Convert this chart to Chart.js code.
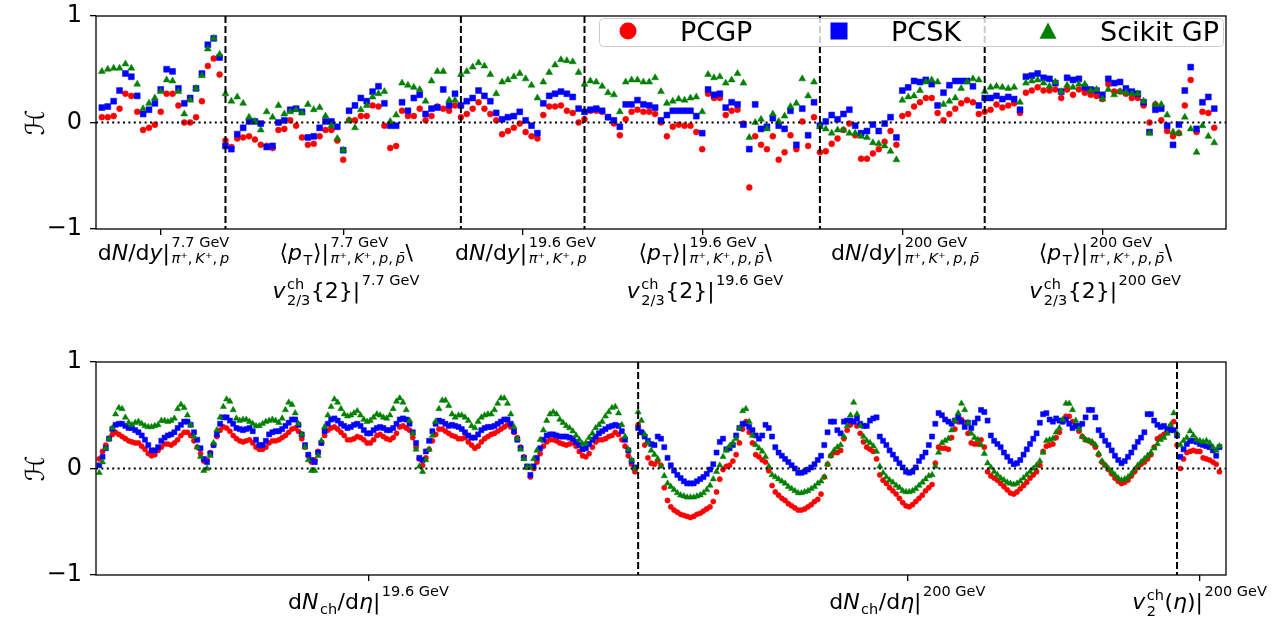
<!DOCTYPE html>
<html>
<head>
<meta charset="utf-8">
<script src="https://cdn.jsdelivr.net/npm/chart.js@4.4.0/dist/chart.umd.min.js"></script>
<style>
  body { margin: 0; background: #fff; }
  #wrap { position: relative; width: 1283px; height: 618px; }
  canvas { position: absolute; left: 0; }
</style>
</head>
<body>
<div id="wrap">
  <canvas id="top-chart" width="1283" height="309" style="top:0;width:1283px;height:309px"></canvas>
  <canvas id="bottom-chart" width="1283" height="309" style="top:309px;width:1283px;height:309px"></canvas>
</div>
<script>
// ---- top panel: 190 observables, groups split by the dashed lines ----
const topBounds = [0, 21, 61, 82, 122, 150, 190];
const topTicks = [10, 41, 71.5, 102, 136, 170];

const topPCGP = [
  0.05,0.05,0.06,0.13,0.27,0.25,0.10,-0.07,-0.05,-0.02,0.10,0.27,0.27,0.16,0.00,0.00,0.05,0.20,0.53,0.60,0.45,
  -0.17,-0.23,-0.15,-0.14,-0.13,-0.16,-0.21,-0.22,-0.24,-0.07,-0.06,0.02,-0.03,-0.14,-0.21,-0.20,-0.13,-0.07,-0.07,-0.17,
  -0.35,0.02,0.02,0.06,0.06,0.16,0.15,-0.03,-0.24,-0.22,0.11,0.06,0.06,0.13,0.02,0.06,0.15,0.13,0.11,0.16,
  0.05,0.08,0.13,0.19,0.13,0.08,0.02,-0.11,-0.08,-0.05,-0.01,-0.09,-0.13,-0.15,0.07,0.15,0.15,0.16,0.11,0.09,0.00,
  0.03,0.11,0.11,0.10,0.05,-0.01,-0.12,0.03,0.10,0.12,0.10,0.10,0.08,0.00,-0.13,-0.04,-0.02,-0.03,-0.03,-0.09,
  -0.25,0.27,0.23,0.23,0.07,0.11,0.12,-0.01,-0.61,-0.13,-0.21,-0.25,-0.13,-0.35,-0.28,-0.12,-0.25,0.01,-0.22,0.05,
  -0.28,-0.27,-0.20,-0.15,-0.07,-0.01,-0.12,-0.34,-0.34,-0.29,-0.25,-0.18,-0.08,-0.21,0.06,0.08,0.15,0.19,0.23,0.23,0.09,0.02,0.08,0.13,0.18,0.21,0.19,0.08,
  0.10,0.12,0.17,0.14,0.16,0.18,0.09,0.28,0.30,0.33,0.30,0.30,0.31,0.23,0.31,0.26,0.31,0.28,0.26,0.25,
  0.22,0.36,0.29,0.29,0.27,0.23,0.23,0.16,0.00,0.17,0.02,-0.08,-0.13,-0.10,0.16,0.40,-0.09,0.10,0.09,-0.05
];
const topPCSK = [
  0.14,0.15,0.20,0.30,0.46,0.43,0.25,0.08,0.12,0.18,0.31,0.50,0.48,0.32,0.18,0.23,0.32,0.46,0.73,0.79,0.61,
  -0.22,-0.25,-0.11,-0.05,0.01,0.01,-0.01,-0.23,-0.22,0.00,0.02,0.12,0.13,0.10,-0.14,-0.13,-0.05,0.01,0.01,-0.04,
  -0.26,0.11,0.16,0.23,0.20,0.29,0.34,0.18,-0.03,-0.03,0.19,0.11,0.23,0.26,0.08,0.13,0.14,0.31,0.16,0.27,
  0.16,0.20,0.23,0.30,0.25,0.20,0.09,0.03,0.05,0.06,0.10,0.02,-0.03,-0.10,0.18,0.25,0.27,0.29,0.27,0.24,0.13,
  0.10,0.12,0.13,0.11,0.05,0.02,-0.04,0.17,0.17,0.21,0.17,0.16,0.14,0.02,0.07,0.11,0.11,0.11,0.11,0.06,
  -0.10,0.31,0.26,0.27,0.14,0.19,0.17,-0.02,-0.25,0.17,-0.06,-0.04,0.04,-0.03,-0.06,0.11,-0.21,0.13,-0.12,0.19,
  -0.03,0.01,0.07,0.03,0.08,0.12,-0.03,-0.10,-0.08,-0.02,-0.08,-0.01,0.05,-0.14,0.30,0.33,0.39,0.38,0.40,0.36,0.16,0.28,0.35,0.39,0.39,0.39,0.34,0.16,
  0.23,0.23,0.25,0.22,0.24,0.22,0.12,0.43,0.44,0.46,0.42,0.41,0.37,0.29,0.42,0.40,0.41,0.33,0.31,0.30,
  0.26,0.41,0.37,0.38,0.32,0.29,0.27,0.19,-0.09,0.12,0.13,-0.03,-0.21,-0.02,0.30,0.52,-0.06,0.19,0.24,0.13
];
const topScikit = [
  0.48,0.50,0.51,0.51,0.55,0.51,0.36,0.13,0.18,0.23,0.29,0.40,0.39,0.29,0.08,0.21,0.32,0.44,0.69,0.79,0.64,
  0.27,0.20,0.24,0.18,0.05,0.01,-0.07,0.10,0.05,0.16,0.08,0.10,0.12,0.09,0.17,0.12,0.14,0.06,-0.03,-0.15,
  -0.26,0.02,-0.05,0.12,0.16,0.24,0.27,0.29,0.01,0.07,0.37,0.35,0.33,0.31,0.20,0.39,0.48,0.48,0.21,0.21,
  0.45,0.48,0.52,0.56,0.53,0.45,0.27,0.38,0.40,0.43,0.46,0.41,0.35,0.23,0.38,0.47,0.54,0.59,0.58,0.57,0.47,
  0.36,0.39,0.38,0.34,0.28,0.26,0.10,0.38,0.40,0.40,0.38,0.38,0.42,0.29,0.18,0.20,0.22,0.21,0.23,0.24,
  0.10,0.45,0.42,0.43,0.37,0.40,0.46,0.37,-0.14,0.00,0.03,-0.06,0.08,0.01,0.06,0.15,0.18,0.41,0.25,0.38,
  -0.04,-0.06,-0.10,-0.07,-0.07,-0.10,-0.10,-0.13,-0.14,-0.19,-0.20,-0.22,-0.27,-0.35,0.21,0.24,0.25,0.30,0.38,0.40,0.38,0.17,0.20,0.23,0.32,0.38,0.41,0.40,
  0.29,0.33,0.34,0.33,0.32,0.33,0.19,0.37,0.39,0.40,0.37,0.34,0.38,0.29,0.35,0.33,0.36,0.36,0.30,0.31,
  0.22,0.31,0.26,0.29,0.28,0.27,0.27,0.20,-0.10,0.17,0.17,0.07,-0.09,-0.10,0.05,-0.06,-0.28,-0.03,-0.13,-0.19
];

// ---- bottom panel: dNch/deta at 19.6 GeV (5 x 33), at 200 GeV (5 x 33), v2(eta) (14) ----
const bottomBounds = [0, 165, 330, 344];
const bottomTicks = [82.5, 247.5, 337];

const dNch196PCGP = [
  0.09,0.16,0.22,0.28,0.32,0.34,0.32,0.30,0.28,0.26,0.25,0.24,0.24,0.21,0.18,0.14,0.12,0.13,0.17,0.20,0.23,0.23,0.22,0.24,0.27,0.31,0.34,0.34,0.31,0.26,0.20,0.14,0.07,
  0.08,0.15,0.22,0.30,0.36,0.39,0.38,0.35,0.31,0.28,0.26,0.25,0.26,0.27,0.24,0.20,0.18,0.18,0.20,0.24,0.26,0.26,0.27,0.29,0.31,0.34,0.37,0.38,0.35,0.28,0.20,0.12,0.06,
  0.08,0.16,0.24,0.31,0.36,0.38,0.39,0.37,0.34,0.31,0.27,0.27,0.28,0.30,0.29,0.27,0.24,0.24,0.27,0.31,0.32,0.30,0.28,0.27,0.29,0.33,0.39,0.40,0.38,0.36,0.29,0.20,0.09,
  0.03,0.10,0.18,0.26,0.32,0.37,0.37,0.35,0.33,0.31,0.30,0.28,0.28,0.29,0.25,0.22,0.19,0.21,0.25,0.28,0.30,0.32,0.33,0.35,0.37,0.39,0.41,0.39,0.34,0.29,0.20,0.11,0.01,
  -0.08,0.00,0.06,0.14,0.21,0.25,0.27,0.27,0.26,0.24,0.23,0.22,0.23,0.24,0.21,0.16,0.12,0.11,0.14,0.20,0.25,0.27,0.27,0.28,0.30,0.31,0.34,0.32,0.27,0.21,0.12,0.04,-0.03
];
const dNch196PCSK = [
  0.03,0.11,0.19,0.28,0.37,0.41,0.42,0.42,0.40,0.38,0.38,0.36,0.34,0.31,0.27,0.22,0.17,0.17,0.20,0.26,0.29,0.31,0.32,0.34,0.38,0.41,0.44,0.44,0.41,0.34,0.27,0.19,0.09,
  0.06,0.14,0.22,0.32,0.42,0.48,0.48,0.45,0.42,0.38,0.37,0.36,0.37,0.38,0.35,0.27,0.22,0.22,0.26,0.32,0.34,0.35,0.35,0.37,0.40,0.43,0.46,0.46,0.41,0.32,0.22,0.13,0.08,
  0.06,0.15,0.24,0.35,0.42,0.46,0.47,0.45,0.42,0.40,0.38,0.39,0.41,0.42,0.40,0.36,0.33,0.33,0.36,0.38,0.39,0.38,0.36,0.36,0.38,0.42,0.46,0.47,0.46,0.42,0.34,0.24,0.10,
  0.08,0.16,0.26,0.35,0.42,0.45,0.44,0.42,0.40,0.41,0.40,0.39,0.37,0.34,0.31,0.29,0.29,0.32,0.36,0.38,0.39,0.39,0.40,0.42,0.44,0.46,0.46,0.42,0.35,0.27,0.19,0.10,0.02,
  -0.06,0.02,0.10,0.19,0.27,0.31,0.32,0.32,0.31,0.30,0.30,0.30,0.29,0.28,0.25,0.22,0.18,0.19,0.23,0.27,0.30,0.33,0.35,0.37,0.39,0.40,0.41,0.40,0.35,0.27,0.17,0.07,0.01
];
const dNch196Scikit = [
  -0.04,0.06,0.19,0.28,0.38,0.51,0.57,0.56,0.48,0.43,0.41,0.43,0.44,0.42,0.40,0.39,0.39,0.40,0.41,0.45,0.45,0.44,0.45,0.47,0.56,0.60,0.57,0.50,0.41,0.30,0.20,0.11,-0.02,
  0.00,0.12,0.24,0.36,0.48,0.58,0.65,0.63,0.55,0.47,0.45,0.46,0.46,0.44,0.42,0.40,0.40,0.42,0.44,0.45,0.46,0.45,0.43,0.47,0.55,0.62,0.60,0.52,0.42,0.32,0.20,0.08,-0.02,
  -0.02,0.12,0.26,0.39,0.50,0.58,0.65,0.62,0.56,0.51,0.49,0.50,0.52,0.54,0.50,0.46,0.44,0.45,0.48,0.51,0.50,0.48,0.47,0.50,0.56,0.63,0.66,0.62,0.55,0.45,0.33,0.18,0.02,
  -0.03,0.08,0.18,0.31,0.44,0.56,0.64,0.64,0.59,0.51,0.48,0.50,0.50,0.48,0.45,0.40,0.38,0.44,0.48,0.50,0.51,0.51,0.55,0.61,0.66,0.66,0.61,0.51,0.39,0.28,0.18,0.09,0.01,
  0.01,0.09,0.17,0.27,0.36,0.45,0.51,0.53,0.51,0.46,0.43,0.40,0.38,0.35,0.31,0.27,0.23,0.24,0.29,0.33,0.38,0.41,0.44,0.49,0.53,0.57,0.58,0.52,0.41,0.30,0.18,0.08,0.00
];
const dNch200PCGP = [
  0.41,0.34,0.22,0.10,0.05,0.04,0.07,0.03,-0.18,-0.30,-0.36,-0.39,-0.41,-0.43,-0.44,-0.45,-0.46,-0.45,-0.43,-0.42,-0.40,-0.38,-0.36,-0.31,-0.22,-0.10,-0.01,0.02,0.03,0.07,0.13,0.24,0.37,
  0.44,0.34,0.24,0.13,0.11,0.08,0.06,-0.02,-0.16,-0.22,-0.25,-0.28,-0.30,-0.33,-0.35,-0.37,-0.39,-0.39,-0.38,-0.36,-0.34,-0.31,-0.29,-0.24,-0.08,0.04,0.12,0.15,0.15,0.17,0.28,0.36,0.41,
  0.44,0.40,0.33,0.25,0.20,0.18,0.16,0.09,-0.06,-0.11,-0.14,-0.18,-0.21,-0.24,-0.28,-0.32,-0.35,-0.36,-0.34,-0.31,-0.28,-0.25,-0.21,-0.18,-0.15,0.05,0.20,0.19,0.19,0.18,0.29,0.37,0.44,
  0.46,0.43,0.33,0.24,0.23,0.23,0.27,0.20,-0.03,-0.07,-0.09,-0.11,-0.14,-0.17,-0.20,-0.23,-0.24,-0.22,-0.19,-0.16,-0.13,-0.09,-0.06,-0.03,0.03,0.16,0.21,0.22,0.23,0.29,0.34,0.44,0.49,
  0.49,0.44,0.40,0.35,0.30,0.27,0.26,0.24,0.20,0.13,0.06,0.03,-0.01,-0.05,-0.09,-0.12,-0.14,-0.13,-0.11,-0.07,-0.03,0.01,0.04,0.06,0.09,0.13,0.20,0.28,0.30,0.32,0.34,0.40,0.44
];
const dNch200PCSK = [
  0.38,0.34,0.30,0.26,0.23,0.22,0.30,0.28,0.20,0.10,0.03,-0.02,-0.06,-0.09,-0.12,-0.14,-0.14,-0.14,-0.12,-0.10,-0.08,-0.05,-0.01,0.04,0.15,0.25,0.28,0.18,0.19,0.22,0.31,0.38,0.42,
  0.42,0.39,0.36,0.31,0.28,0.31,0.41,0.38,0.30,0.20,0.15,0.12,0.09,0.06,0.03,0.00,-0.04,-0.04,-0.03,-0.01,0.01,0.04,0.08,0.12,0.22,0.34,0.44,0.44,0.36,0.33,0.44,0.45,0.45,
  0.44,0.47,0.42,0.40,0.40,0.45,0.47,0.48,0.30,0.26,0.22,0.17,0.13,0.09,0.05,0.01,-0.03,-0.04,-0.03,0.01,0.07,0.11,0.15,0.22,0.30,0.42,0.52,0.50,0.46,0.44,0.42,0.45,0.48,
  0.44,0.39,0.43,0.38,0.43,0.47,0.55,0.53,0.45,0.31,0.26,0.23,0.20,0.15,0.11,0.07,0.04,0.05,0.08,0.13,0.18,0.23,0.28,0.33,0.43,0.51,0.52,0.46,0.44,0.47,0.45,0.44,0.46,
  0.42,0.38,0.40,0.40,0.42,0.48,0.55,0.55,0.48,0.36,0.31,0.26,0.22,0.17,0.12,0.08,0.05,0.07,0.11,0.15,0.20,0.25,0.29,0.34,0.51,0.51,0.45,0.41,0.39,0.40,0.37,0.36,0.36
];
const dNch200Scikit = [
  0.53,0.45,0.32,0.24,0.17,0.13,0.09,0.02,-0.07,-0.14,-0.17,-0.20,-0.23,-0.25,-0.26,-0.27,-0.27,-0.27,-0.26,-0.25,-0.23,-0.20,-0.16,-0.10,-0.03,0.03,0.11,0.17,0.21,0.24,0.28,0.38,0.54,
  0.56,0.44,0.31,0.22,0.19,0.16,0.11,0.02,-0.06,-0.08,-0.10,-0.12,-0.14,-0.17,-0.19,-0.21,-0.23,-0.23,-0.22,-0.21,-0.19,-0.17,-0.14,-0.12,-0.08,0.04,0.12,0.17,0.20,0.22,0.30,0.40,0.50,
  0.62,0.51,0.40,0.30,0.26,0.24,0.21,0.16,0.02,-0.04,-0.08,-0.11,-0.13,-0.16,-0.18,-0.21,-0.22,-0.22,-0.21,-0.19,-0.16,-0.13,-0.10,-0.07,-0.06,0.02,0.15,0.24,0.26,0.28,0.36,0.45,0.52,
  0.61,0.55,0.43,0.33,0.29,0.27,0.22,0.14,0.05,0.01,-0.03,-0.06,-0.09,-0.11,-0.13,-0.14,-0.15,-0.14,-0.12,-0.09,-0.06,-0.03,0.00,0.03,0.07,0.15,0.26,0.27,0.28,0.34,0.38,0.46,0.61,
  0.61,0.55,0.45,0.37,0.30,0.27,0.26,0.25,0.22,0.14,0.07,0.03,0.00,-0.03,-0.06,-0.09,-0.11,-0.10,-0.08,-0.05,-0.01,0.03,0.06,0.09,0.12,0.15,0.19,0.23,0.27,0.29,0.33,0.41,0.52
];
const v2etaPCGP = [0.22,0.00,0.09,0.15,0.16,0.17,0.16,0.16,0.10,0.09,0.08,0.06,0.04,-0.03];
const v2etaPCSK = [0.31,0.11,0.18,0.23,0.26,0.26,0.25,0.23,0.22,0.21,0.20,0.17,0.12,0.20];
const v2etaScikit = [0.33,0.22,0.26,0.29,0.35,0.31,0.27,0.26,0.25,0.26,0.24,0.20,0.17,0.21];

const seriesNames = ["PCGP", "PCSK", "Scikit GP"];
const seriesColors = ["#ff0000", "#0000ff", "#008000"];
const seriesStyles = ["circle", "rect", "triangle"];

// ---- axis label math: runs of text with optional super/subscripts ----
const T = t => ({ t });
const I = t => ({ t, it: true });
const S = (sup, sub, up, dn) => ({ sup, sub, up, dn });
const piKp = [I("π"), T("⁺,\u2009"), I("K"), T("⁺,\u2009"), I("p")];
const piKppb = [...piKp, T(",\u2009"), I("p\u0304")];
const dNdy = (e, sub) => [T("d"), I("N"), T("/d"), I("y"), T("|"), S([T(e + " GeV")], sub, 0.57, 0.12)];
const pTv2 = e => [
  [T("⟨"), I("p"), S(null, [T("T")], 0, 0.22), T("⟩|"), S([T(e + " GeV")], piKppb, 0.57, 0.12), T("\\")],
  [I("v"), S([T("ch")], [T("2/3")], 0.42, 0.3), T("{2}|"), S([T(e + " GeV")], null, 0.57, 0)]
];
const topTickLabels = [
  [dNdy("7.7", piKp)], pTv2("7.7"),
  [dNdy("19.6", piKp)], pTv2("19.6"),
  [dNdy("200", piKppb)], pTv2("200")
];
const dNdeta = e => [T("d"), I("N"), S(null, [T("ch")], 0, 0.22), T("/d"), I("η"), T("|"), S([T(e + " GeV")], null, 0.57, 0)];
const bottomTickLabels = [
  [dNdeta("19.6")], [dNdeta("200")],
  [[I("v"), S([T("ch")], [T("2")], 0.42, 0.3), T("("), I("η"), T(")|"), S([T("200 GeV")], null, 0.57, 0)]]
];

const FONT = '"DejaVu Sans"';
const SCRIPT = 0.66;
const fontFor = (r, size) => (r.it ? "italic " : "") + size + "px " + FONT;

function runsWidth(ctx, runs, size) {
  let w = 0;
  (runs || []).forEach(r => { ctx.font = fontFor(r, size); w += ctx.measureText(r.t).width; });
  return w;
}
function partWidth(ctx, p, size) {
  if (p.t !== undefined) return runsWidth(ctx, [p], size);
  const s = size * SCRIPT;
  return Math.max(runsWidth(ctx, p.sup, s), runsWidth(ctx, p.sub, s)) + 2;
}
function drawRuns(ctx, runs, x, y, size) {
  runs.forEach(r => {
    ctx.font = fontFor(r, size);
    ctx.fillText(r.t, x, y);
    x += ctx.measureText(r.t).width;
  });
}
function drawMath(ctx, parts, cx, y, size) {
  const total = parts.reduce((a, p) => a + partWidth(ctx, p, size), 0);
  let x = cx - total / 2;
  parts.forEach(p => {
    if (p.t !== undefined) drawRuns(ctx, [p], x, y, size);
    else {
      if (p.sup) drawRuns(ctx, p.sup, x + 1.5, y - p.up * size, size * SCRIPT);
      if (p.sub) drawRuns(ctx, p.sub, x + 1.5, y + p.dn * size, size * SCRIPT);
    }
    x += partWidth(ctx, p, size);
  });
}

function drawMarker(ctx, style, x, y, r) {
  ctx.beginPath();
  if (style === "circle") ctx.arc(x, y, r, 0, Math.PI * 2);
  else if (style === "rect") ctx.rect(x - r, y - r, 2 * r, 2 * r);
  else { ctx.moveTo(x, y - r); ctx.lineTo(x + r, y + r * 0.9); ctx.lineTo(x - r, y + r * 0.9); ctx.closePath(); }
  ctx.fill();
}

function makeDecor(cfg) {
  return {
    id: "decor",
    afterDatasetsDraw(chart) {
      const { ctx, chartArea: a, scales: { x, y } } = chart;
      ctx.save();
      ctx.strokeStyle = "#000";
      ctx.lineWidth = 2;
      ctx.setLineDash([2, 3.4]);
      const y0 = y.getPixelForValue(0);
      ctx.beginPath(); ctx.moveTo(a.left, y0); ctx.lineTo(a.right, y0); ctx.stroke();
      ctx.setLineDash([7, 3]);
      cfg.bounds.slice(1, -1).forEach(b => {
        const px = x.getPixelForValue(b);
        ctx.beginPath(); ctx.moveTo(px, a.top); ctx.lineTo(px, a.bottom); ctx.stroke();
      });
      ctx.restore();
    },
    afterDraw(chart) {
      const { ctx, chartArea: a, scales: { x } } = chart;
      ctx.save();
      ctx.strokeStyle = "#000";
      ctx.lineWidth = 1.3;
      ctx.strokeRect(a.left, a.top, a.right - a.left, a.bottom - a.top);

      ctx.fillStyle = "#000";
      ctx.textAlign = "left";
      ctx.textBaseline = "alphabetic";
      cfg.ticks.forEach((t, k) => {
        const px = x.getPixelForValue(t) + cfg.labelShift;
        cfg.labels[k].forEach((line, li) => drawMath(ctx, line, px, cfg.labelY[li], 22));
      });

      if (cfg.legend) {
        ctx.fillStyle = "rgba(255,255,255,0.8)";
        ctx.strokeStyle = "#cccccc";
        ctx.lineWidth = 1;
        ctx.beginPath();
        ctx.roundRect(599.5, 18.5, 624, 28, 4);
        ctx.fill(); ctx.stroke();
        const mx = [628, 839, 1048], tx = [680, 891, 1100];
        seriesNames.forEach((n, i) => {
          ctx.fillStyle = seriesColors[i];
          drawMarker(ctx, seriesStyles[i], mx[i], 31, 8.5);
          ctx.fillStyle = "#000";
          ctx.font = "27px " + FONT;
          ctx.fillText(n, tx[i], 41);
        });
      }
      ctx.restore();
    }
  };
}

function buildChart(canvasId, cfg) {
  const datasets = cfg.series.map((vals, i) => ({
    label: seriesNames[i],
    data: vals.map((v, k) => ({ x: k, y: v })),
    pointStyle: seriesStyles[i],
    pointRadius: cfg.radius[i],
    backgroundColor: seriesColors[i],
    borderColor: seriesColors[i],
    pointBorderWidth: 0.5,
    order: 3 - i
  }));
  return new Chart(document.getElementById(canvasId), {
    type: "scatter",
    data: { datasets },
    options: {
      responsive: false,
      animation: false,
      devicePixelRatio: 1,
      layout: { padding: { left: 0, right: 57, top: cfg.padTop, bottom: 0 } },
      plugins: { legend: { display: false }, tooltip: { enabled: false } },
      scales: {
        x: {
          type: "linear", min: -1, max: cfg.xMax,
          afterBuildTicks: s => { s.ticks = cfg.ticks.map(v => ({ value: v })); },
          afterFit: s => { s.height = cfg.xHeight; },
          grid: { drawOnChartArea: false, drawTicks: true, tickLength: 6, color: "#000", lineWidth: 1.3 },
          border: { display: false },
          ticks: { autoSkip: false, maxRotation: 0, callback: () => "", padding: 0 }
        },
        y: {
          min: -1, max: 1,
          afterBuildTicks: s => { s.ticks = [-1, 0, 1].map(v => ({ value: v })); },
          afterFit: s => { s.width = 96; },
          grid: { drawOnChartArea: false, drawTicks: true, tickLength: 6, color: "#000", lineWidth: 1.3 },
          border: { display: false },
          ticks: {
            color: "#000", padding: 8, font: { family: "DejaVu Sans", size: 24, lineHeight: 0.5 },
            callback: v => (v < 0 ? "\u2212" + Math.abs(v) : String(v))
          },
          title: {
            display: true, text: "ℋ", color: "#000",
            font: { family: "DejaVu Sans", size: 26 }, padding: { top: 22, bottom: 0 }
          }
        }
      }
    },
    plugins: [makeDecor(cfg)]
  });
}

buildChart("top-chart", {
  series: [topPCGP, topPCSK, topScikit],
  radius: [3, 4.2, 4],
  bounds: topBounds, ticks: topTicks, labels: topTickLabels,
  labelY: [260, 298], labelShift: 3, legend: true,
  xMax: 191, padTop: 16, xHeight: 80
});

buildChart("bottom-chart", {
  series: [
    [...dNch196PCGP, ...dNch200PCGP, ...v2etaPCGP],
    [...dNch196PCSK, ...dNch200PCSK, ...v2etaPCSK],
    [...dNch196Scikit, ...dNch200Scikit, ...v2etaScikit]
  ],
  radius: [2.6, 3.6, 3.6],
  bounds: bottomBounds, ticks: bottomTicks, labels: bottomTickLabels,
  labelY: [300], labelShift: 0, legend: false,
  xMax: 345, padTop: 53, xHeight: 43
});
</script>
</body>
</html>
